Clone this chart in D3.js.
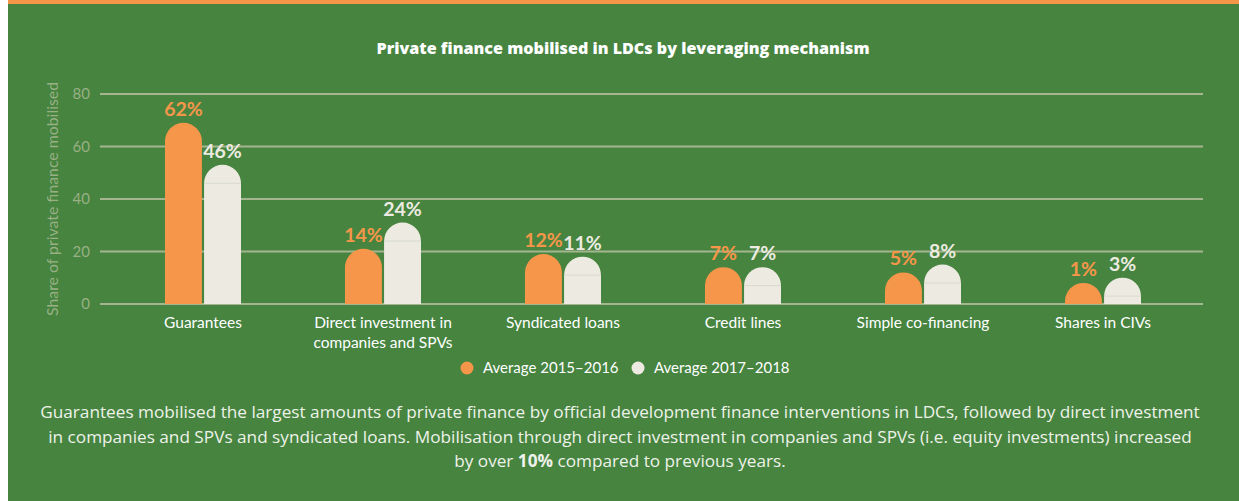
<!DOCTYPE html>
<html><head><meta charset="utf-8">
<script src="https://cdn.jsdelivr.net/npm/d3@7"></script>
<style>html,body{margin:0;padding:0;background:#fff;}svg{display:block;}</style>
</head><body>
<svg id="c" width="1239" height="501"></svg>
<script>
const categories = [["Guarantees"],["Direct investment in","companies and SPVs"],["Syndicated loans"],["Credit lines"],["Simple co-financing"],["Shares in CIVs"]];
const series1 = [62,14,12,7,5,1];   // Average 2015–2016
const series2 = [46,24,11,7,8,3];   // Average 2017–2018
const seriesNames = ["Average 2015–2016","Average 2017–2018"];
const yTicks = [0,20,40,60,80];
const title = "Private finance mobilised in LDCs by leveraging mechanism";
const yTitle = "Share of private finance mobilised";

const green="#46843f", orange="#f6964a", cream="#edebe1", grid="#a5b58f", muted="#98b084";
const svg=d3.select("#c");
const font="Lato, 'Open Sans', sans-serif";
const wide="'Open Sans', Lato, sans-serif";

function fit(sel, target){
  const s=parseFloat(sel.attr("font-size"));
  const w=sel.node().getComputedTextLength();
  if(w>0) sel.attr("font-size",(s*target/w).toFixed(2));
}

svg.append("rect").attr("x",8).attr("y",0).attr("width",1231).attr("height",501).attr("fill",green);
svg.append("rect").attr("x",8).attr("y",0).attr("width",1231).attr("height",4).attr("fill",orange);

const x=d3.scaleBand().domain(d3.range(categories.length)).range([113,1193]);
const inner=d3.scaleBand().domain([0,1]).range([0,76]).paddingInner(0.055);
const y=d3.scaleLinear().domain([0,80]).range([304,94]);

const tt=svg.append("text").attr("x",623).attr("y",54).attr("text-anchor","middle")
  .attr("font-family",wide).attr("font-weight",800).attr("font-size",15).attr("fill","#fff").text(title);
fit(tt,493);

// grid
svg.append("g").selectAll("line").data(yTicks).join("line")
  .attr("x1",100).attr("x2",1203).attr("y1",d=>y(d)).attr("y2",d=>y(d))
  .attr("stroke",grid).attr("stroke-width",2);
svg.append("g").selectAll("text").data(yTicks).join("text")
  .attr("x",90).attr("y",d=>y(d)+5).attr("text-anchor","end")
  .attr("font-family",font).attr("font-size",15).attr("fill",muted).text(d=>d);
const yt=svg.append("text").attr("transform","translate(58,199) rotate(-90)").attr("text-anchor","middle")
  .attr("font-family",font).attr("font-size",14.5).attr("fill",muted).text(yTitle);
fit(yt,234);

const data=[];
categories.forEach((c,i)=>{data.push({i,s:0,v:series1[i]});data.push({i,s:1,v:series2[i]});});
const w=inner.bandwidth(), r=w/2;
const cx=d=>x(d.i)+x.bandwidth()/2-38+inner(d.s);
function pill(d){
  const x0=cx(d), yb=y(0), yv=y(d.v);
  return `M${x0},${yb}V${yv}A${r},${r} 0 0 1 ${x0+w},${yv}V${yb}Z`;
}
svg.append("g").selectAll("path").data(data).join("path")
  .attr("d",pill).attr("fill",d=>d.s?cream:orange);
svg.append("g").selectAll("line").data(data.filter(d=>d.s===1)).join("line")
  .attr("x1",d=>cx(d)).attr("x2",d=>cx(d)+w).attr("y1",d=>y(d.v)).attr("y2",d=>y(d.v))
  .attr("stroke","#d6dacc").attr("stroke-width",1);
svg.append("g").selectAll("text").data(data).join("text")
  .attr("x",d=>cx(d)+w/2).attr("y",d=>y(d.v)-r-7).attr("text-anchor","middle")
  .attr("font-family",font).attr("font-weight",700).attr("font-size",19.5)
  .attr("fill",d=>d.s?cream:orange).text(d=>d.v+"%");

// category labels
const cl=svg.append("g").selectAll("text").data(categories).join("text")
  .attr("x",(d,i)=>x(i)+x.bandwidth()/2).attr("y",328).attr("text-anchor","middle")
  .attr("font-family",font).attr("font-size",15.5).attr("fill","#fff");
cl.selectAll("tspan").data(d=>d).join("tspan").attr("x",function(){return this.parentNode.getAttribute("x");})
  .attr("dy",(d,j)=>j?20:0).text(d=>d);

// legend
const lg=[{n:seriesNames[0],c:orange,x:467},{n:seriesNames[1],c:cream,x:638}];
const lgG=svg.append("g").selectAll("g").data(lg).join("g");
lgG.append("circle").attr("cx",d=>d.x).attr("cy",368).attr("r",6.5).attr("fill",d=>d.c);
lgG.append("text").attr("x",d=>d.x+16).attr("y",373).attr("font-family",font).attr("font-size",15).attr("fill","#fff").text(d=>d.n);

// caption
const cap=[
 [["Guarantees mobilised the largest amounts of private finance by official development finance interventions in LDCs, followed by direct investment",0]],
 [["in companies and SPVs and syndicated loans. Mobilisation through direct investment in companies and SPVs (i.e. equity investments) increased",0]],
 [["by over ",0],["10%",1],[" compared to previous years.",0]]
];
const capG=svg.append("g");
const capT=[];
cap.forEach((line,k)=>{
  const t=capG.append("text").attr("x",620).attr("y",418+k*24.5).attr("text-anchor","middle")
    .attr("font-family",wide).attr("font-size",15).attr("fill","#eef2ea");
  line.forEach(p=>t.append("tspan").attr("font-weight",p[1]?700:400).text(p[0]));
  capT.push(t);
});
fit(capT[0],1160);
const fs=capT[0].attr("font-size");
capT.forEach(t=>t.attr("font-size",fs));
</script>
</body></html>
